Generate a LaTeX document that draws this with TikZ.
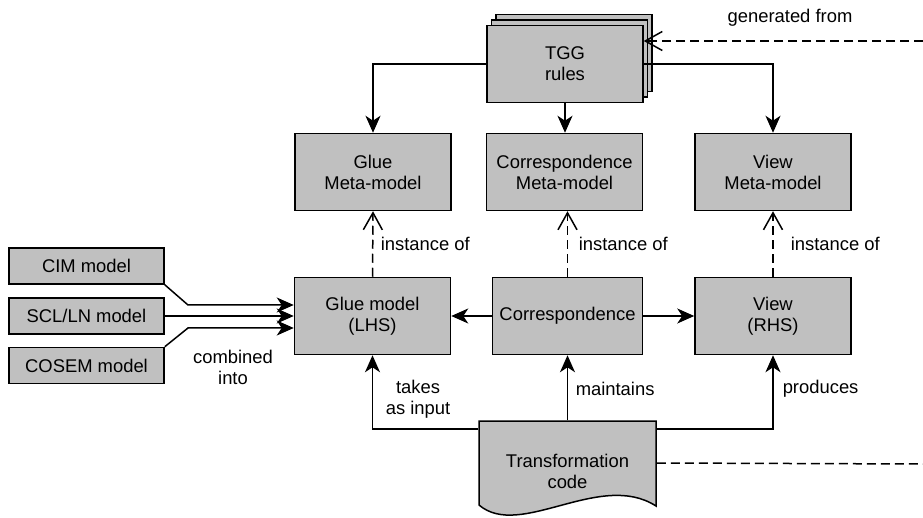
\documentclass[tikz,border=0pt]{standalone}
\usepackage{fontspec}
\setmainfont{Liberation Sans}
\usetikzlibrary{arrows.meta}
\definecolor{boxgray}{RGB}{192,192,192}
\newcommand\diafont{\fontsize{18.4}{21}\selectfont}
\begin{document}
\begin{tikzpicture}[x=1pt,y=-1pt,line width=1.5pt,
  box/.style={draw,fill=boxgray,minimum width=156pt,minimum height=77pt,inner sep=0pt,align=center,font=\diafont},
  smallbox/.style={box,minimum width=155pt,minimum height=36pt},
  arr/.style={-{Stealth[length=17pt,width=15pt,inset=5pt]}},
  inst/.style={dash pattern=on 9pt off 5pt,-{Straight Barb[length=17pt,width=19pt]}},
  lbl/.style={font=\diafont,align=center,inner sep=0pt}]
\useasboundingbox (0,0) rectangle (923,518);
% TGG stack
\node[box] (tgg3) at (574,53) {};
\node[box] (tgg2) at (569.5,58.5) {};
\node[box] (tgg) at (565,64) {TGG\\rules};
% meta-models
\node[box] (gluemeta) at (373,172) {Glue\\Meta-model};
\node[box] (corrmeta) at (564.5,172) {Correspondence\\Meta-model};
\node[box] (viewmeta) at (773,172) {View\\Meta-model};
% models
\node[box] (glue) at (372.5,316) {Glue model\\(LHS)};
\node[box,minimum width=150pt] (corr) at (567.5,316) {Correspondence};
\node[box] (view) at (773,316) {View\\(RHS)};
% inputs
\node[smallbox] (cim) at (86.5,266) {CIM model};
\node[smallbox] (scl) at (86.5,316) {SCL/LN model};
\node[smallbox] (cosem) at (86.5,365.5) {COSEM model};
% transformation code
\filldraw[fill=boxgray] (479,421) -- (656,421) -- (656,506)
  .. controls (600,470) and (520,540) .. (479,505) -- cycle;
\node[minimum width=177pt,minimum height=84pt,inner sep=0pt] (code) at (567.5,463) {};
\node[lbl] (codetxt) at (567.5,471) {Transformation\\code};
% coordinates
\coordinate (b1) at (188,305);
\coordinate (b2) at (188,328);
\coordinate (cy) at (0,429);
\coordinate (rt) at (923,41);
\coordinate (rb) at (923,464);
% TGG arrows
\draw[arr] (tgg.west) -| (gluemeta.north);
\draw[arr] (tgg.east) -| (viewmeta.north);
\draw[arr] (tgg.south) -- (tgg.south |- corrmeta.north);
\draw[inst] (rt) -- (rt -| tgg.east);
\node[lbl] (gen) at (790,18) {generated from};
% instance of
\draw[inst] (glue.north) -- (gluemeta.south);
\draw[inst] (corr.north) -- (corr.north |- corrmeta.south);
\draw[inst] (view.north) -- (viewmeta.south);
\node[lbl,anchor=west] (i1) at (380,244) {instance of};
\node[lbl,anchor=west] (i2) at (578,244) {instance of};
\node[lbl,anchor=west] (i3) at (790,244) {instance of};
% correspondence
\draw[arr] (corr.west) -- (glue.east);
\draw[arr] (corr.east) -- (view.west);
% inputs
\draw[arr] (cim.south east) -- (b1) -- (b1 -| glue.west);
\draw[arr] (scl.east) -- (scl.east -| glue.west);
\draw[arr] (cosem.north east) -- (b2) -- (b2 -| glue.west);
\node[lbl] (comb) at (233,367) {combined\\into};
% code arrows
\draw[arr] (code.west |- cy) -| (glue.south);
\draw[arr] (code.north) -- (corr.south);
\draw[arr] (code.east |- cy) -| (view.south);
\node[lbl] (takes) at (418,399) {takes\\as input};
\node[lbl,anchor=west] (maint) at (575,389) {maintains};
\node[lbl,anchor=west] (prod) at (782,389) {produces};
\draw[dash pattern=on 9pt off 5pt] (code.east) -- (rb);
\end{tikzpicture}
\end{document}
